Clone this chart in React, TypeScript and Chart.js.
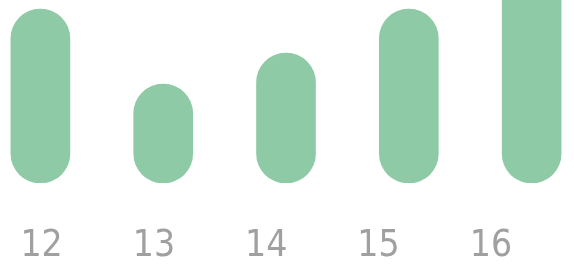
import { useEffect, useRef } from 'react';
import { Chart, registerables } from 'chart.js';
Chart.register(...registerables);

const categories = [12, 13, 14, 15, 16];
const values = [95, 54, 71, 95, 120];
const tickLabels = ['12', '13', '14', '15', '16'];

export default function App() {
  const ref = useRef<HTMLCanvasElement>(null);
  useEffect(() => {
    const chart = new Chart(ref.current!, {
      type: 'bar',
      data: {
        datasets: [
          {
            data: categories.map((c, i) => ({ x: c, y: values[i] })),
            backgroundColor: '#8ecaa5',
            borderRadius: 40,
            borderSkipped: false,
            barThickness: 59,
            xAxisID: 'x',
            yAxisID: 'y',
          } as any,
        ],
      },
      options: {
        animation: false,
        responsive: true,
        maintainAspectRatio: false,
        layout: { padding: 0 },
        plugins: { legend: { display: false }, tooltip: { enabled: false } },
        scales: {
          x: {
            type: 'linear',
            display: false,
            offset: false,
            min: 11.671,
            max: 16.345,
          },
          xl: {
            type: 'linear',
            position: 'bottom',
            offset: false,
            min: 11.63,
            max: 16.74,
            grid: { display: false, drawTicks: false },
            border: { display: false },
            afterBuildTicks: (s: any) => {
              s.ticks = categories.map((v) => ({ value: v }));
            },
            afterFit: (s: any) => {
              s.height = 88;
            },
            ticks: {
              autoSkip: false,
              maxRotation: 0,
              padding: 0,
              color: '#a0a0a0',
              font: {
                family: "'DejaVu Sans Condensed', 'Liberation Sans Narrow', Roboto, sans-serif",
                size: 37,
                lineHeight: '126px',
              },
              callback: (_v: any, i: number) => tickLabels[i],
            },
          },
          y: { display: false, min: 0, max: 100 },
        },
      } as any,
    });
    return () => chart.destroy();
  }, []);
  return (
    <div style={{ position: 'fixed', left: 0, top: 0, width: 574, height: 271, background: '#fff' }}>
      <canvas ref={ref} />
    </div>
  );
}
